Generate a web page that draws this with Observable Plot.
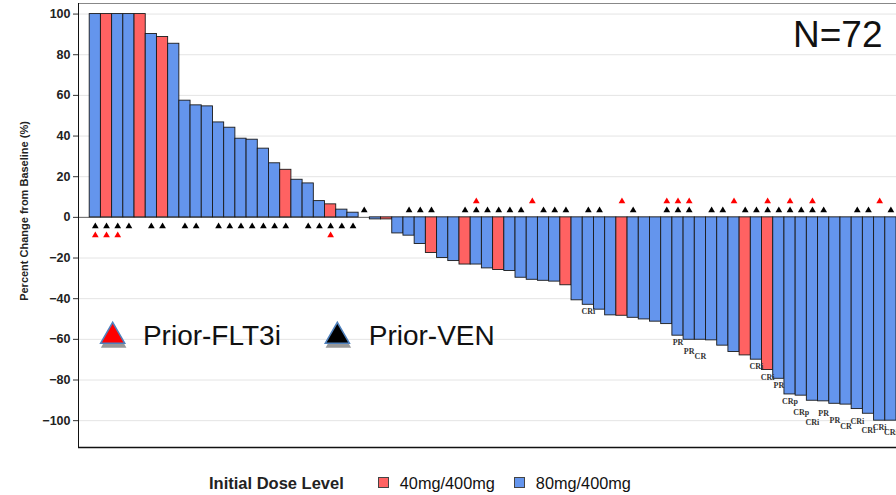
<!DOCTYPE html>
<html><head><meta charset="utf-8">
<script src="https://cdn.jsdelivr.net/npm/d3@7"></script>
<script src="https://cdn.jsdelivr.net/npm/@observablehq/plot@0.6"></script>
<style>
body{margin:0;background:#fff;font-family:Arial,"Liberation Sans",sans-serif;}
#wrap{position:relative;width:896px;height:495px;overflow:hidden;background:#fff;}
#legend{position:absolute;left:209px;top:474px;display:flex;align-items:center;font-size:16.3px;line-height:18px;color:#111;white-space:nowrap;}
#legend .title{font-weight:bold;font-size:16.5px;color:#222;margin-right:34px;}
#legend .sw{width:9px;height:9px;border:1px solid #444;margin-right:11px;position:relative;top:-1px;}
#legend .item{display:flex;align-items:center;margin-right:19px;}
</style></head><body><div id="wrap"><div id="legend"></div></div>
<script>
// ---- data ----
const pctChange = [100,100,100,100,100,90.2,88.7,85.4,57.4,55.1,54.6,46.7,44.1,38.7,38.2,33.8,26.6,23.4,18.5,16.7,8.0,6.4,3.8,2.3,0,-1.0,-1.0,-7.9,-9.0,-13.1,-17.5,-20.0,-21.5,-23.2,-23.2,-25.1,-25.9,-26.4,-29.7,-30.7,-31.2,-31.6,-33.4,-40.8,-43.0,-45.4,-48.2,-48.4,-49.4,-50.2,-51.3,-52.5,-58.2,-60.2,-60.2,-60.5,-63.1,-66.2,-67.9,-70.0,-75.1,-79.4,-87.1,-87.7,-90.2,-90.5,-91.7,-92.1,-94.3,-96.6,-100,-100];
const dose40Patients = [2,5,7,18,22,27,31,34,37,43,48,59,61];
const priorVENPatients = [1,2,3,4,6,7,9,10,12,13,14,15,16,17,18,20,21,22,23,24,25,29,30,31,34,35,36,37,38,39,41,42,43,45,46,49,52,53,54,56,57,59,60,61,62,63,64,65,66,69,70,72];
const priorFLT3iPatients = [1,2,3,22,35,40,48,52,53,54,58,61,63,65,71];
const responsePatients = [45,53,54,55,60,61,62,63,64,65,66,67,68,69,70,71,72];
const responseText = ["CRi","PR","PR","CR","CRi","CRi","PR","CRp","CRp","CRi","PR","PR","CR","CRi","CRi","CRi","CRi"];
const responseRow = [0,0,1,2,0,0,0,0,2,3,1,2,3,1,2,0,1];
const doseLevels = ["40mg/400mg","80mg/400mg"];
const doseColors = ["#FF6262","#6495ED"];
const yTicks = [-100,-80,-60,-40,-20,0,20,40,60,80,100];
const yLabel = "Percent Change from Baseline (%)";
const legendTitle = "Initial Dose Level";
const markerLegend = [
  {label:"Prior-FLT3i", fill:"#FF0000", x:2.05, tx:4.75, y:-58.5},
  {label:"Prior-VEN", fill:"#000000", x:22.1, tx:24.9, y:-58.5}
];

// ---- table ----
const rows = pctChange.map((v,i)=>({
  id:i+1, value:v,
  dose: dose40Patients.includes(i+1) ? doseLevels[0] : doseLevels[1],
  ven: priorVENPatients.includes(i+1),
  flt: priorFLT3iPatients.includes(i+1)
}));
const labels = responsePatients.map((p,k)=>({id:p, value:pctChange[p-1], text:responseText[k], row:responseRow[k]}));
const N = rows.length;

const respMarks = [0,1,2,3].map(r => Plot.text(labels.filter(d => d.row === r), {
  x: d => d.id - 0.5, y: "value", text: "text", dy: 7 + r * 5,
  fontFamily: "'Liberation Serif', 'Times New Roman', serif", fontWeight: "bold",
  fontSize: 8, fill: "#333", lineAnchor: "middle"
}));

const yDomain = [-113.2, 105.2];
const plot = Plot.plot({
  width: 896, height: 452,
  marginLeft: 78, marginRight: 0, marginTop: 3, marginBottom: 5,
  x: {domain: [-1, N], axis: null},
  y: {domain: yDomain, axis: null},
  color: {domain: doseLevels, range: doseColors},
  style: {fontFamily: "Arial, 'Liberation Sans', sans-serif", background: "#fff"},
  marks: [
    Plot.gridY(yTicks, {stroke: "#e4e4e4", strokeOpacity: 1}),
    Plot.axisY(yTicks, {tickSize: 5, tickPadding: 3, fontSize: 12.5, fontWeight: "bold", fill: "#222", stroke: "#333", label: null}),
    Plot.ruleY([yDomain[1]], {stroke: "#888"}),
    Plot.ruleY([0], {stroke: "#666"}),
    Plot.rectY(rows, {x1: d => d.id - 1, x2: d => d.id, y1: 0, y2: "value", fill: "dose", stroke: "#1a1a1a", strokeWidth: 0.9}),
    // triangles
    Plot.dot(rows.filter(d => d.ven && d.value > 0), {x: d => d.id - 0.5, y: 0, dy: 9, symbol: "triangle", r: 2.5, fill: "#000"}),
    Plot.dot(rows.filter(d => d.flt && d.value > 0), {x: d => d.id - 0.5, y: 0, dy: 18, symbol: "triangle", r: 2.5, fill: "#FF0000"}),
    Plot.dot(rows.filter(d => d.ven && d.value <= 0), {x: d => d.id - 0.5, y: 0, dy: -7, symbol: "triangle", r: 2.5, fill: "#000"}),
    Plot.dot(rows.filter(d => d.flt && d.value <= 0), {x: d => d.id - 0.5, y: 0, dy: -16, symbol: "triangle", r: 2.5, fill: "#FF0000"}),
    ...respMarks,
    // marker legend
    Plot.dot(markerLegend, {x: "x", y: "y", dy: 4, dx: 1, symbol: "triangle", r: 9.5, fill: "#444", fillOpacity: 0.55, ariaLabel: "legend-shadow"}),
    Plot.dot(markerLegend, {x: "x", y: "y", symbol: "triangle", r: 8.9, fill: "fill", stroke: "#4F81BD", strokeWidth: 1.6}),
    Plot.text(markerLegend, {x: "tx", y: "y", text: "label", textAnchor: "start", lineAnchor: "middle", fontSize: 28, fill: "#111"}),
    Plot.text([`N=${N}`], {frameAnchor: "top-right", dx: -14, dy: 46.7 - 3, lineAnchor: "bottom", fontSize: 37, fill: "#111"}),
    // axes frame
    Plot.ruleX([-1], {stroke: "#111"}),
    Plot.ruleY([yDomain[0]], {stroke: "#111", strokeWidth: 1.5}),
    Plot.text([yLabel], {frameAnchor: "left", rotate: -90, dx: -54, dy: -14.5, textAnchor: "middle", lineAnchor: "middle", fontSize: 11, fontWeight: "bold", fill: "#222"})
  ]
});
document.getElementById("wrap").prepend(plot);
d3.select(plot).selectAll('g[aria-label="legend-shadow"]').style("filter", "blur(2px)");

// dose legend
const lg = d3.select("#legend");
lg.append("span").attr("class", "title").text(legendTitle);
doseLevels.forEach((lv, k) => {
  const it = lg.append("span").attr("class", "item");
  it.append("span").attr("class", "sw").style("background", doseColors[k]);
  it.append("span").text(lv);
});
</script></body></html>
